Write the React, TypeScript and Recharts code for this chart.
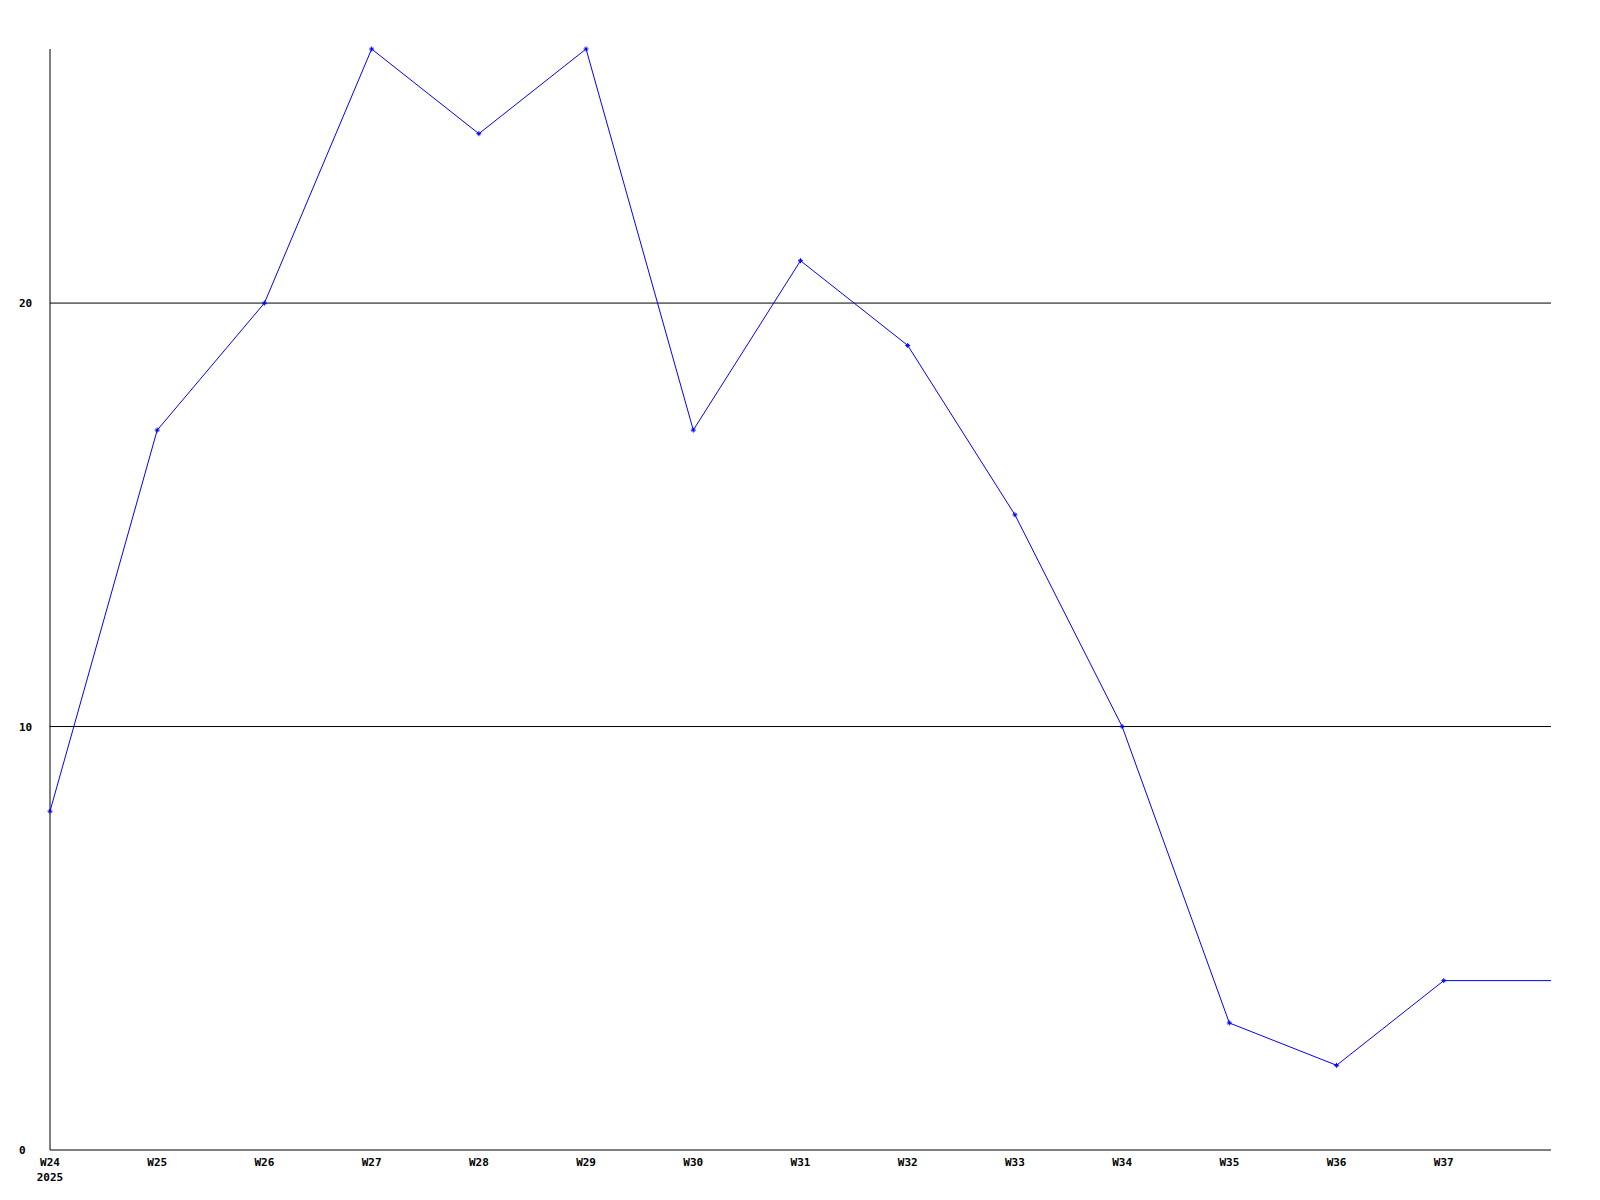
import React from 'react';
import { LineChart, Line, XAxis, YAxis, CartesianGrid } from 'recharts';

const weeks = ['W24', 'W25', 'W26', 'W27', 'W28', 'W29', 'W30', 'W31', 'W32', 'W33', 'W34', 'W35', 'W36', 'W37', 'W38'];
const values = [8, 17, 20, 26, 24, 26, 17, 21, 19, 15, 10, 3, 2, 4, 4];
const yTicks = [0, 10, 20];
const gridValues = [10, 20];
const xTicks = [0, 1, 2, 3, 4, 5, 6, 7, 8, 9, 10, 11, 12, 13];
const yearLabel = '2025';

const data = values.map((v, i) => ({ idx: i, week: weeks[i], value: v }));

const FONT = '"DejaVu Sans Mono", "Liberation Mono", monospace';

const XTick = (props: any) => {
  const { x, y, payload } = props;
  const i = payload.value as number;
  return (
    <g>
      <text x={x} y={y + 8} textAnchor="middle" fontFamily={FONT} fontSize={11} fontWeight="bold" fill="#000">
        {weeks[i]}
      </text>
      {i === 0 && (
        <text x={x} y={y + 23} textAnchor="middle" fontFamily={FONT} fontSize={11} fontWeight="bold" fill="#000">
          {yearLabel}
        </text>
      )}
    </g>
  );
};

const YTick = (props: any) => {
  const { y, payload } = props;
  return (
    <text x={19} y={y + 4} textAnchor="start" fontFamily={FONT} fontSize={11} fontWeight="bold" fill="#000">
      {payload.value}
    </text>
  );
};

const Dot = (props: any) => {
  const { cx, cy, index } = props;
  if (index >= xTicks.length) return <g key={`d${index}`} />;
  return (
    <path
      key={`d${index}`}
      d={`M${cx - 2.5},${cy} L${cx + 2.5},${cy} M${cx},${cy - 2.5} L${cx},${cy + 2.5} M${cx - 1.5},${cy - 1.5} L${cx + 1.5},${cy + 1.5} M${cx - 1.5},${cy + 1.5} L${cx + 1.5},${cy - 1.5}`}
      stroke="#0000ff"
      strokeWidth={1}
      fill="none"
    />
  );
};

export default function App() {
  return (
    <div style={{ position: 'absolute', left: 0, top: 0, width: 1600, height: 1200, background: '#fff' }}>
      <LineChart width={1600} height={1200} data={data} margin={{ top: 49, right: 49, bottom: 0, left: 0 }}>
        <CartesianGrid horizontal={true} vertical={false} horizontalValues={gridValues} stroke="#000" strokeWidth={1} />
        <XAxis
          dataKey="idx"
          type="number"
          domain={[0, 14]}
          ticks={xTicks}
          interval={0}
          height={50}
          axisLine={{ stroke: '#000', strokeWidth: 1 }}
          tickLine={false}
          tick={<XTick />}
        />
        <YAxis
          type="number"
          domain={[0, 26]}
          ticks={yTicks}
          width={50}
          axisLine={{ stroke: '#000', strokeWidth: 1 }}
          tickLine={false}
          tick={<YTick />}
        />
        <Line
          type="linear"
          dataKey="value"
          stroke="#0000ff"
          strokeWidth={1}
          dot={<Dot />}
          activeDot={false}
          isAnimationActive={false}
        />
      </LineChart>
    </div>
  );
}
